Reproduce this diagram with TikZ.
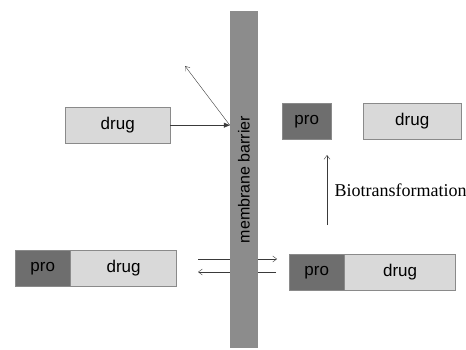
\documentclass[tikz,border=0pt]{standalone}
\usepackage{fontspec}
\setmainfont{Liberation Serif}
\newfontfamily\arialfont{Liberation Sans}
\usepackage{tikz}
\usetikzlibrary{arrows.meta, positioning}
\definecolor{BoxLight}{HTML}{D9D9D9}
\definecolor{BoxDark}{HTML}{6E6E6E}
\definecolor{BoxEdge}{HTML}{8A8A8A}
\definecolor{Barrier}{HTML}{8C8C8C}
\definecolor{ArrowGray}{HTML}{3A3A3A}

\tikzset{
  drugbox/.style={draw=BoxEdge, fill=BoxLight, minimum height=36pt, inner sep=0pt,
    font=\arialfont\fontsize{17}{20}\selectfont},
  probox/.style={drugbox, fill=BoxDark, minimum width=55pt},
  flow/.style={ArrowGray, thin, -{Straight Barb[length=4pt, width=6pt]}},
}

\begin{document}
\begin{tikzpicture}[x=1pt, y=-1pt]
    \useasboundingbox (0, 0) rectangle (466, 350);

    % Prodrug before crossing (left side)
    \node[probox, anchor=north west] (proL) at (15, 250) {pro};
    \node[drugbox, minimum width=106pt, right=0pt of proL] (drugL) {drug};

    % Prodrug after crossing (right side)
    \node[probox, anchor=north west] (proR) at (289, 254) {pro};
    \node[drugbox, minimum width=111pt, right=0pt of proR] (drugR) {drug};

    % Exchange across the barrier (drawn first so the barrier covers it)
    \coordinate (inL) at (198, 259);
    \coordinate (inR) at (277, 259);
    \coordinate (outR) at (276, 272);
    \coordinate (outL) at (198, 272);
    \draw[flow] (inL) -- (inR);
    \draw[flow] (outR) -- (outL);

    % Membrane
    \node[fill=Barrier, rotate=90, minimum width=337pt, minimum height=28pt, inner sep=0pt,
      font=\arialfont\fontsize{16}{19}\selectfont] (membrane) at (244, 179.5) {membrane barrier};

    % Free drug hitting the barrier
    \node[drugbox, minimum width=105pt, anchor=north west] (drugA) at (65, 107) {drug};
    \coordinate (hit) at (membrane.north |- drugA.east);
    \coordinate (bounce) at (185, 66);
    \draw[ArrowGray, thin, -{Triangle[length=6pt, width=5pt]}] (drugA.east) -- (hit);
    \draw[flow] (hit) -- (bounce);

    % Cleaved products
    \node[probox, minimum width=49pt, anchor=north west] (proC) at (282, 103) {pro};
    \node[drugbox, minimum width=98pt, anchor=north west] (drugC) at (363, 103) {drug};

    % Biotransformation step
    \coordinate (bioStart) at (327, 225);
    \coordinate (bioEnd) at (327, 155);
    \draw[flow] (bioStart) -- (bioEnd);
    \node[anchor=west, font=\fontsize{18}{21}\selectfont] (bio) at (331, 190) {Biotransformation};
\end{tikzpicture}
\end{document}
